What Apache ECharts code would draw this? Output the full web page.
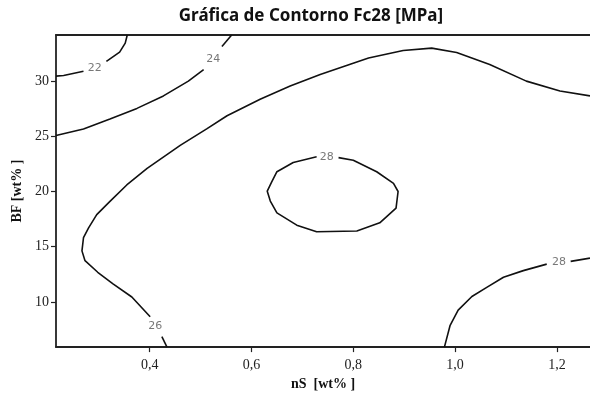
<!DOCTYPE html>
<html>
<head>
<meta charset="utf-8">
<script src="https://cdn.jsdelivr.net/npm/echarts@6/dist/echarts.min.js"></script>
<style>html,body{margin:0;padding:0;background:#fff;}#c{width:590px;height:396px;}</style>
</head>
<body>
<div id="c"></div>
<script>
// Axis ranges and ticks
const xRange = [0.216, 1.265];
const yRange = [5.9, 34.18];
const xTicks = [0.4, 0.6, 0.8, 1.0, 1.2];
const yTicks = [10, 15, 20, 25, 30];

// Contour line segments (nS, BF), broken where the level label sits
const c22a = [[0.216,30.45],[0.231,30.51],[0.270,30.90]];
const c22b = [[0.315,31.79],[0.341,32.63],[0.352,33.44],[0.356,34.18]];
const c24a = [[0.216,25.07],[0.270,25.67],[0.322,26.57],[0.375,27.53],[0.427,28.66],[0.476,30.0],[0.506,31.05]];
const c24b = [[0.542,33.14],[0.561,34.18]];
const c26a = [[1.265,28.66],[1.206,29.10],[1.140,30.0],[1.068,31.50],[1.003,32.60],[0.954,32.99],[0.898,32.78],[0.830,32.10],[0.735,30.60],[0.676,29.55],[0.617,28.36],[0.552,26.86],[0.512,25.67],[0.460,24.18],[0.395,22.09],[0.355,20.59],[0.322,19.10],[0.296,17.90],[0.280,16.71],[0.270,15.81],[0.267,14.62],[0.273,13.73],[0.298,12.68],[0.328,11.63],[0.365,10.44],[0.401,8.65]];
const c26b = [[0.424,6.85],[0.434,5.9]];
const c28ring = [[0.728,23.14],[0.682,22.63],[0.650,21.79],[0.640,20.90],[0.631,20.03],[0.637,19.13],[0.650,18.06],[0.689,16.95],[0.728,16.35],[0.807,16.42],[0.852,17.16],[0.884,18.50],[0.888,20.0],[0.879,20.74],[0.846,21.79],[0.800,22.83],[0.771,23.07]];
const c28b = [[0.979,5.9],[0.990,7.84],[1.006,9.25],[1.033,10.48],[1.063,11.33],[1.095,12.23],[1.134,12.83],[1.180,13.42]];
const c28c = [[1.227,13.67],[1.265,13.96]];

// Level labels
const levelNames = ['22','24','26','28','28'];
const levelPoints = [[0.292,31.2],[0.525,32.03],[0.411,7.80],[0.748,23.14],[1.204,13.58]];

const segments = [c22a,c22b,c24a,c24b,c26a,c26b,c28ring,c28b,c28c];

const serif = '"Liberation Serif", "DejaVu Serif", serif';
const lineSeries = segments.map(seg => ({
  type: 'line',
  data: seg,
  showSymbol: false,
  symbol: 'none',
  smooth: false,
  silent: true,
  animation: false,
  clip: true,
  lineStyle: { color: '#111', width: 1.6 }
}));

const labelSeries = {
  type: 'scatter',
  symbolSize: 0,
  animation: false,
  silent: true,
  data: levelPoints.map((p, i) => ({ value: p, name: levelNames[i] })),
  label: {
    show: true,
    position: 'inside',
    formatter: p => p.name,
    color: '#555',
    fontSize: 11,
    fontFamily: '"DejaVu Sans", sans-serif'
  }
};

const chart = echarts.init(document.getElementById('c'), null, { renderer: 'canvas' });
chart.setOption({
  backgroundColor: '#fff',
  animation: false,
  title: {
    text: 'Gráfica de Contorno Fc28 [MPa]',
    left: 306, top: 3,
    textAlign: 'center',
    textStyle: { fontSize: 17, fontWeight: 'bold', color: '#111', fontFamily: '"Noto Sans", sans-serif' }
  },
  grid: { left: 56, right: 0, top: 35, bottom: 45, containLabel: false },
  xAxis: [{
    type: 'value', min: xRange[0], max: xRange[1],
    name: 'nS  [wt% ]', nameLocation: 'middle', nameGap: 25,
    nameTextStyle: { fontFamily: serif, fontWeight: 'bold', fontSize: 14, color: '#111' },
    axisLine: { show: true, lineStyle: { color: '#222', width: 1.8 } },
    axisTick: { show: true, inside: false, length: 5, customValues: xTicks, lineStyle: { color: '#222', width: 1.2 } },
    axisLabel: { customValues: xTicks, margin: 11, fontFamily: serif, fontSize: 14, color: '#222',
      formatter: v => v.toFixed(1).replace('.', ',') },
    splitLine: { show: false }
  }, {
    type: 'value', position: 'top', min: xRange[0], max: xRange[1],
    axisLine: { show: true, onZero: false, lineStyle: { color: '#222', width: 1.8 } },
    axisTick: { show: false }, axisLabel: { show: false }, splitLine: { show: false }
  }],
  yAxis: {
    type: 'value', min: yRange[0], max: yRange[1],
    name: 'BF [wt% ]', nameLocation: 'middle', nameGap: 29,
    nameTextStyle: { fontFamily: serif, fontWeight: 'bold', fontSize: 14, color: '#111' },
    axisLine: { show: true, onZero: false, lineStyle: { color: '#222', width: 1.8 } },
    axisTick: { show: true, inside: false, length: 5, customValues: yTicks, lineStyle: { color: '#222', width: 1.2 } },
    axisLabel: { customValues: yTicks, margin: 7, fontFamily: serif, fontSize: 14, color: '#222' },
    splitLine: { show: false }
  },
  series: [...lineSeries, labelSeries]
});
</script>
</body>
</html>
